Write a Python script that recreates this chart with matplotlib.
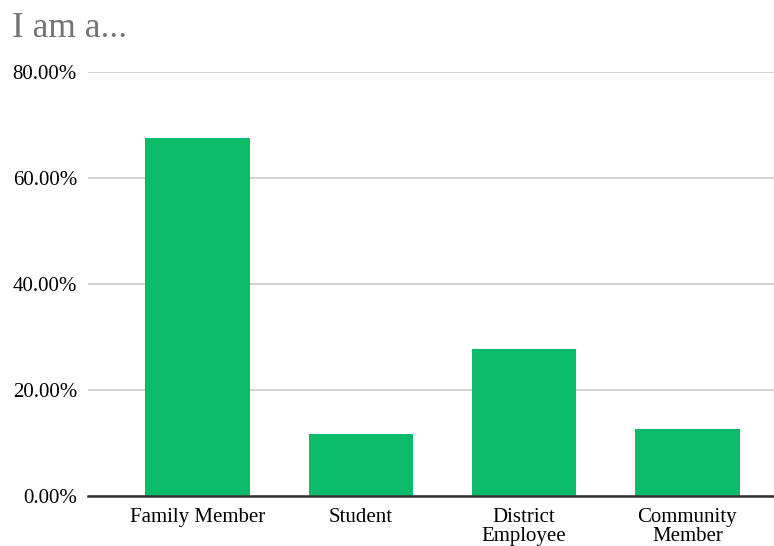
import matplotlib.pyplot as plt
from matplotlib.ticker import FuncFormatter

categories = ["Family Member", "Student", "District\nEmployee", "Community\nMember"]
shares = [67.5, 11.7, 27.7, 12.6]
yticks = [0, 20, 40, 60, 80]

plt.rcParams['font.family'] = ['Liberation Serif', 'DejaVu Serif']

fig = plt.figure(figsize=(7.74, 5.46), dpi=100)
ax = fig.add_axes([0.1137, 0.0916, 0.8863, 0.7765])

x = range(len(categories))
ax.bar(x, shares, width=0.64, color="#0bbb6a", zorder=3)

ax.set_xlim(-0.67, 3.53)
ax.set_ylim(0, 80)
ax.set_yticks(yticks)
ax.yaxis.set_major_formatter(FuncFormatter(lambda v, p: f"{v:.2f}%"))
ax.set_xticks(list(x))
ax.set_xticklabels(categories, fontsize=15, linespacing=1.0)
ax.tick_params(axis='y', labelsize=15, length=0, pad=8)
ax.tick_params(axis='x', length=0, pad=9)

ax.grid(axis='y', color="#cccccc", linewidth=1.2, zorder=0)
for s in ["top", "right", "left"]:
    ax.spines[s].set_visible(False)
ax.spines["bottom"].set_color("#333333")
ax.spines["bottom"].set_linewidth(1.8)
ax.spines["bottom"].set_zorder(4)

fig.text(0.015, 0.947, "I am a...", fontsize=25.5, color="#757575", va="center", ha="left")

fig.savefig("out.png", dpi=100)
